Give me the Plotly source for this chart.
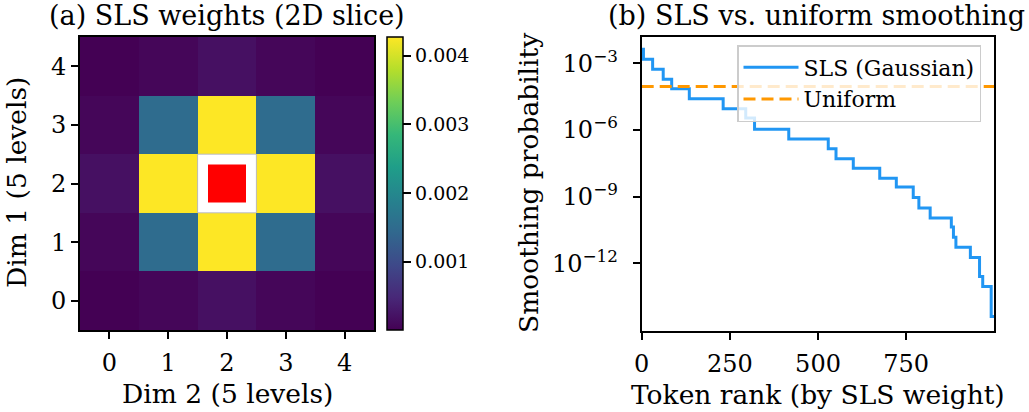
import numpy as np
import plotly.graph_objects as go

# ---------------- data ----------------
dim_levels = [0, 1, 2, 3, 4]
# 2D slice of SLS weights (centre = true token, masked)
sls_weights = [
    [3.0e-6, 6.5e-5, 1.85e-4, 6.5e-5, 3.0e-6],
    [6.5e-5, 1.50e-3, 4.27e-3, 1.50e-3, 6.5e-5],
    [1.85e-4, 4.27e-3, None, 4.27e-3, 1.85e-4],
    [6.5e-5, 1.50e-3, 4.27e-3, 1.50e-3, 6.5e-5],
    [3.0e-6, 6.5e-5, 1.85e-4, 6.5e-5, 3.0e-6],
]
true_token = (2, 2)
colorbar_ticks = [0.001, 0.002, 0.003, 0.004]

n_tokens = 1000
step_start_rank = [0, 5, 31, 61, 85, 135, 231, 295, 320, 417, 529, 551, 600,
                   675, 722, 770, 786, 818, 878, 884, 891, 932, 958, 967, 991]
step_log10_prob = [-2.37, -2.82, -3.27, -3.72, -4.15, -4.60, -5.05, -5.47, -5.97,
                   -6.41, -6.85, -7.30, -7.73, -8.18, -8.57, -9.04, -9.51, -9.96,
                   -10.37, -10.83, -11.28, -11.74, -12.60, -13.05, -14.40]
uniform_prob = 8.9e-5
x_ticks = [0, 250, 500, 750]
y_tick_exps = [-3, -6, -9, -12]

# ---------------- styling ----------------
FONT = "DejaVu Serif"
W, H = 1029, 412
BLUE = "#2196F3"
ORANGE = "#FF9800"
TICK_SIZE = 24
LABEL_SIZE = 26.5
TITLE_SIZE = 27

def fx(px):
    return px / W

def fy(py):
    return 1 - py / H

fig = go.Figure()

# left heatmap
fig.add_trace(go.Heatmap(
    z=sls_weights, x=dim_levels, y=dim_levels,
    colorscale="Viridis", xaxis="x", yaxis="y",
    showscale=True,
    colorbar=dict(
        x=fx(387), xanchor="left", xpad=0, ypad=0,
        y=fy(330), yanchor="bottom", len=(330 - 37) / H, lenmode="fraction",
        thickness=16, outlinecolor="black", outlinewidth=1.5,
        tickvals=colorbar_ticks, tickformat=".3f", tickprefix="\u2009",
        ticks="outside", ticklen=8, tickwidth=1.5, tickcolor="black",
        tickfont=dict(family=FONT, size=19, color="black"),
    ),
))
fig.add_trace(go.Scatter(
    x=[true_token[1]], y=[true_token[0]], mode="markers",
    marker=dict(symbol="square", size=38, color="red",
                line=dict(width=0)),
    xaxis="x", yaxis="y", showlegend=False, hoverinfo="skip",
))

# right panel
probs = [10 ** v for v in step_log10_prob]
xs = step_start_rank + [n_tokens - 1]
ys = probs + [probs[-1]]
fig.add_trace(go.Scatter(
    x=xs, y=ys, mode="lines", line=dict(color=BLUE, width=3, shape="hv"),
    name="SLS (Gaussian)", xaxis="x2", yaxis="y2",
))
fig.add_trace(go.Scatter(
    x=[0, n_tokens - 1], y=[uniform_prob, uniform_prob], mode="lines",
    line=dict(color=ORANGE, width=3, dash="12px,6px"),
    name="Uniform", xaxis="x2", yaxis="y2",
))

axis_common = dict(
    showline=True, linecolor="black", linewidth=2, mirror=True,
    ticks="outside", ticklen=7, tickwidth=1.5, tickcolor="black",
    showgrid=False, zeroline=False, automargin=False,
    tickfont=dict(family=FONT, size=TICK_SIZE, color="black"),
)

fig.update_layout(
    width=W, height=H,
    margin=dict(l=0, r=0, t=0, b=0, autoexpand=False),
    paper_bgcolor="white", plot_bgcolor="white",
    font=dict(family=FONT, color="black"),
    xaxis=dict(domain=[fx(80), fx(374)], range=[-0.5, 4.5], tickvals=dim_levels,
               anchor="y", ticklabelstandoff=3, **axis_common),
    yaxis=dict(domain=[fy(330), fy(37)], range=[-0.5, 4.5], tickvals=dim_levels,
               anchor="x", **axis_common),
    xaxis2=dict(domain=[fx(641.7), fx(994)], range=[0, n_tokens - 1], tickvals=x_ticks,
                anchor="y2", ticklabelstandoff=3, **axis_common),
    yaxis2=dict(domain=[fy(331), fy(37)], type="log", range=[-15.05, -1.82],
                tickvals=[10.0 ** e for e in y_tick_exps],
                ticktext=[f"10<sup>\u2212{abs(e)}</sup>" for e in y_tick_exps],
                anchor="x2", ticklabelstandoff=10, **axis_common),
    legend=dict(
        x=fx(737), y=fy(45), xanchor="left", yanchor="top",
        bgcolor="rgba(255,255,255,0.8)", bordercolor="#cccccc", borderwidth=1.5,
        font=dict(family=FONT, size=22, color="black"),
        tracegroupgap=0, itemwidth=55, entrywidth=152, entrywidthmode="pixels",
    ),
    showlegend=True,
)

# outline of masked centre cell
cy, cx = true_token
fig.add_shape(type="rect", xref="x", yref="y",
              x0=cx - 0.5, x1=cx + 0.5, y0=cy - 0.5, y1=cy + 0.5,
              line=dict(color="#bbbbbb", width=1))

# titles and axis labels
ann = [
    dict(text="(a) SLS weights (2D slice)", x=fx(227), y=fy(16), size=TITLE_SIZE),
    dict(text="(b) SLS vs. uniform smoothing", x=fx(816), y=fy(16), size=TITLE_SIZE),
    dict(text="Dim 2 (5 levels)", x=fx(227), y=fy(393), size=LABEL_SIZE),
    dict(text="Token rank (by SLS weight)", x=fx(818), y=fy(394), size=LABEL_SIZE),
]
for a in ann:
    fig.add_annotation(text=a["text"], x=a["x"], y=a["y"], xref="paper", yref="paper",
                       xanchor="center", yanchor="middle", showarrow=False,
                       font=dict(family=FONT, size=a["size"], color="black"))
for text, px, py in [("Dim 1 (5 levels)", 16, 183), ("Smoothing probability", 528, 183)]:
    fig.add_annotation(text=text, x=fx(px), y=fy(py), xref="paper", yref="paper",
                       xanchor="center", yanchor="middle", showarrow=False, textangle=-90,
                       font=dict(family=FONT, size=LABEL_SIZE, color="black"))

fig.write_html("out.html", config={"displayModeBar": False},
               post_script="document.body.style.margin='0';")
